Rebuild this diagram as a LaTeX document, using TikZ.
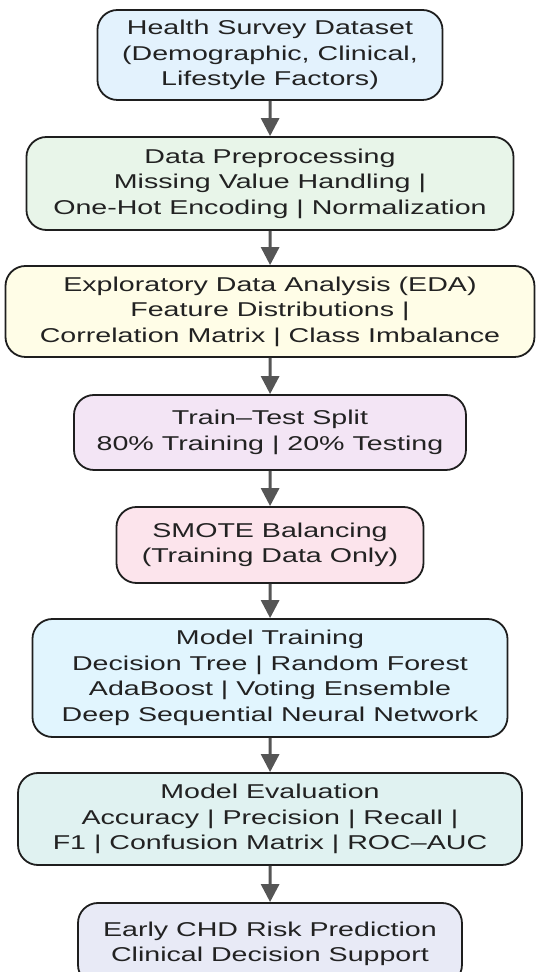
\documentclass[tikz,border=0pt]{standalone}
\usepackage{fontspec}
\setmainfont{Liberation Sans}
\usetikzlibrary{arrows.meta}

\definecolor{bBlue}{HTML}{E3F2FD}
\definecolor{bGreen}{HTML}{E8F5E9}
\definecolor{bYellow}{HTML}{FFFDE7}
\definecolor{bPurple}{HTML}{F3E5F5}
\definecolor{bPink}{HTML}{FCE4EC}
\definecolor{bSky}{HTML}{E1F5FE}
\definecolor{bTeal}{HTML}{E0F2F1}
\definecolor{bIndigo}{HTML}{E8EAF6}
\definecolor{inkText}{HTML}{222222}
\definecolor{inkLine}{HTML}{1E1E1E}
\definecolor{inkArrow}{HTML}{555555}

\tikzset{
  stage/.style={draw=inkLine, line width=1.8bp, rounded corners=20bp,
    align=center, text=inkText, inner sep=0pt, transform shape,
    font=\fontsize{20bp}{25.5bp}\selectfont},
  flow/.style={draw=inkArrow, line width=3bp,
    -{Triangle[width=18bp,length=18bp]}},
}

\begin{document}
\begin{tikzpicture}[x=1bp, y=1bp, xscale=1.43]
  \useasboundingbox (0,0) rectangle (376.92,972);
  \def\cx{188.8}
  \begin{scope}
  \clip (0,0) rectangle (376.92,972);

  \node[stage, fill=bBlue, minimum width=241.3bp, minimum height=90bp]
    (data) at (\cx,917) {Health Survey Dataset\\(Demographic, Clinical,\\Lifestyle Factors)};
  \node[stage, fill=bGreen, minimum width=340.6bp, minimum height=93bp]
    (prep) at (\cx,788.5) {Data Preprocessing\\Missing Value Handling |\\One-Hot Encoding | Normalization};
  \node[stage, fill=bYellow, minimum width=369.9bp, minimum height=91bp]
    (eda) at (\cx,660.5) {Exploratory Data Analysis (EDA)\\Feature Distributions |\\Correlation Matrix | Class Imbalance};
  \node[stage, fill=bPurple, minimum width=274.1bp, minimum height=75bp]
    (split) at (\cx,539.5) {Train--Test Split\\80\% Training | 20\% Testing};
  \node[stage, fill=bPink, minimum width=214.7bp, minimum height=76bp]
    (smote) at (\cx,427) {SMOTE Balancing\\(Training Data Only)};
  \node[stage, fill=bSky, minimum width=332.2bp, minimum height=118bp]
    (train) at (\cx,294) {Model Training\\Decision Tree | Random Forest\\AdaBoost | Voting Ensemble\\Deep Sequential Neural Network};
  \node[stage, fill=bTeal, minimum width=352.4bp, minimum height=92bp]
    (eval) at (\cx,153) {Model Evaluation\\Accuracy | Precision | Recall |\\F1 | Confusion Matrix | ROC--AUC};
  \node[stage, fill=bIndigo, minimum width=268.5bp, minimum height=82bp]
    (pred) at (\cx,28) {Early CHD Risk Prediction\\Clinical Decision Support};

  \draw[flow] (data) -- (prep);
  \draw[flow] (prep) -- (eda);
  \draw[flow] (eda) -- (split);
  \draw[flow] (split) -- (smote);
  \draw[flow] (smote) -- (train);
  \draw[flow] (train) -- (eval);
  \draw[flow] (eval) -- (pred);
  \end{scope}
\end{tikzpicture}
\end{document}
